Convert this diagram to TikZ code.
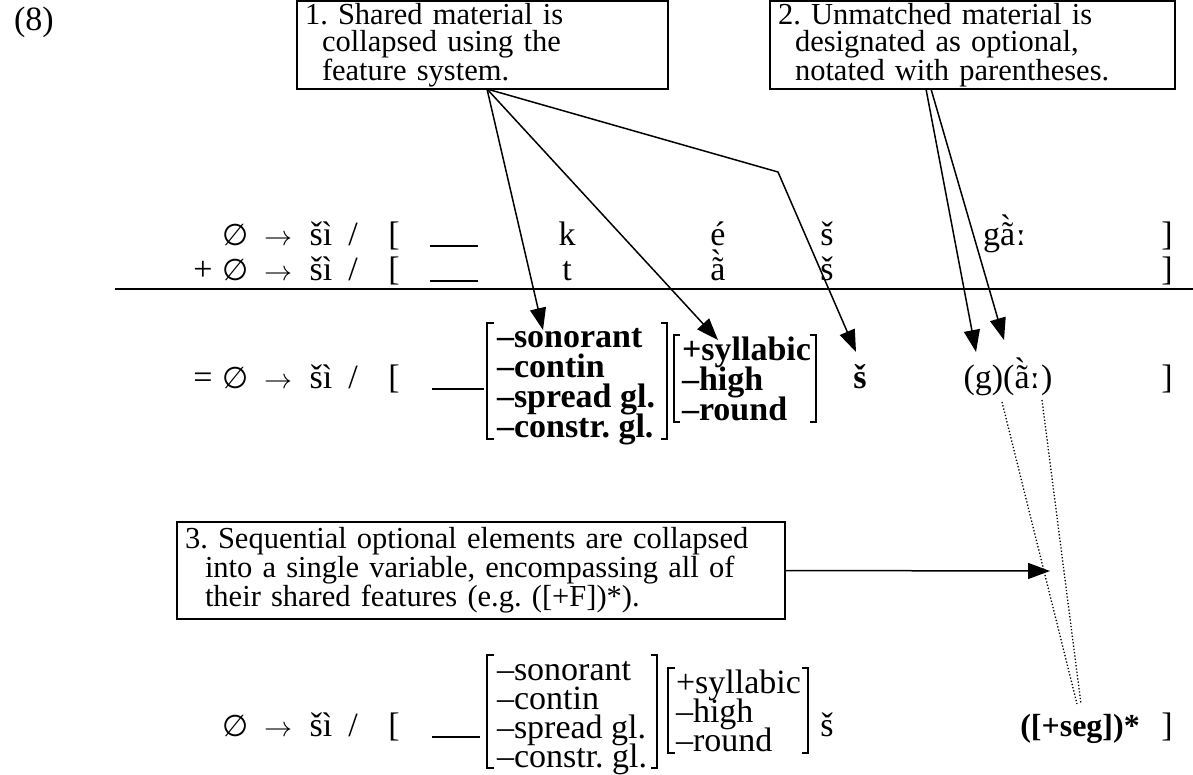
\RequirePackage{fix-cm}
\documentclass[tikz,border=0pt]{standalone}
\usepackage{fontspec}
\setmainfont{Liberation Serif}
\newfontfamily\dvsans{DejaVu Sans}
\newfontfamily\dvserif{DejaVu Serif}
\newfontfamily\rawserif{Liberation Serif}
\usetikzlibrary{arrows.meta}
\newcommand\emptyglyph{{\dvsans\fontsize{30}{33}\selectfont ∅}}
\newcommand\rarr{{\fontsize{28}{30}\selectfont$\rightarrow$}}
\newcommand\lengthmark{{\dvserif ː}}
\newsavebox\tgbox
\newcommand\atildegrave{\sbox\tgbox{ã}\rlap{\usebox\tgbox}\makebox[\wd\tgbox]{\hspace*{-0.12em}\raisebox{0.2em}{\rawserif `}}}
\begin{document}
\frenchspacing
\begin{tikzpicture}[x=1pt,y=-1pt,
  every node/.style={inner sep=0pt, outer sep=0pt},
  t/.style={anchor=base},
  tl/.style={anchor=base west},
  note/.style={draw, line width=1.8pt, anchor=north west, align=left, inner xsep=8pt, inner ysep=0pt,
    font=\fontsize{30.5}{27.5}\selectfont},
  arr/.style={line width=1.5pt, -{Triangle[length=22pt,width=16pt]}},
  brk/.style={line width=2.6pt},
  brkthin/.style={line width=1.3pt},
  blank/.style={line width=1.4pt},
  dots/.style={dotted, line width=1.3pt},
  font=\fontsize{34}{36}\selectfont]
\useasboundingbox (0,0) rectangle (1193,774);

% example number
\node[tl] (num) at (14,30) {(8)};

% annotation boxes
\node[note, minimum width=371pt, minimum height=88pt, text width=355pt] (b1) at (297,1)
  {1. Shared material is\\\hspace*{17pt}collapsed using the\\\hspace*{17pt}feature system.};
\node[note, minimum width=405pt, minimum height=88pt, text width=389pt] (b2) at (770,1)
  {2. Unmatched material is\\\hspace*{17pt}designated as optional,\\\hspace*{17pt}notated with parentheses.};
\node[note, minimum width=608pt, minimum height=97pt, text width=592pt] (b3) at (177,522)
  {3. Sequential optional elements are collapsed\\\hspace*{20pt}into a single variable, encompassing all of\\\hspace*{20pt}their shared features (e.g. ([+F])*).};

% row 1
\node[t] (a1) at (236,245) {\emptyglyph};
\node[t] (a2) at (278,245) {\rarr};
\node[t] (a3) at (321,245) {šì};
\node[t] (a4) at (353,245) {/};
\node[t] (a5) at (394,245) {[};
\draw[blank] (430,246) -- (478,246);
\node[t] (a6) at (567,245) {k};
\node[t] (a7) at (718,245) {é};
\node[t] (a8) at (827,245) {š};
\node[t] (a9) at (1005,245) {g\atildegrave\lengthmark};
\node[t] (a10) at (1167,245) {]};

% row 2
\node[t] (p0) at (203,280) {+};
\node[t] (p1) at (236,280) {\emptyglyph};
\node[t] (p2) at (278,280) {\rarr};
\node[t] (p3) at (321,280) {šì};
\node[t] (p4) at (353,280) {/};
\node[t] (p5) at (394,280) {[};
\draw[blank] (430,281) -- (478,281);
\node[t] (p6) at (567,280) {t};
\node[t] (p7) at (718,280) {\atildegrave};
\node[t] (p8) at (827,280) {š};
\node[t] (p10) at (1167,280) {]};

% rule
\draw[line width=1.8pt] (115,289) -- (1193,289);

% row 3 (bold result)
\node[t] (e0) at (203,388) {=};
\node[t] (e1) at (236,388) {\emptyglyph};
\node[t] (e2) at (278,388) {\rarr};
\node[t] (e3) at (321,388) {šì};
\node[t] (e4) at (353,388) {/};
\node[t] (e5) at (394,388) {[};
\draw[blank] (432,389) -- (484,389);
\draw[brk] (494,323) -- (487,323) -- (487,439) -- (494,439);
\draw[brk] (661,323) -- (667,323) -- (667,439) -- (661,439);
\node[tl] (m1) at (497,347) {\bfseries –sonorant};
\node[tl] (m2) at (497,377) {\bfseries –contin};
\node[tl] (m3) at (497,407) {\bfseries –spread gl.};
\node[tl] (m4) at (497,437) {\bfseries –constr. gl.};
\draw[brk] (680,335) -- (674,335) -- (674,422) -- (680,422);
\draw[brk] (810,335) -- (816,335) -- (816,422) -- (810,422);
\node[tl] (n1) at (682,360) {\bfseries +syllabic};
\node[tl] (n2) at (682,390) {\bfseries –high};
\node[tl] (n3) at (682,420) {\bfseries –round};
\node[t] (e8) at (860,388) {\bfseries š};
\node[t] (opt) at (1008,388) {(g)(\atildegrave\lengthmark)};
\node[t] (e10) at (1167,388) {]};

% bottom row
\node[t] (f1) at (236,736) {\emptyglyph};
\node[t] (f2) at (278,736) {\rarr};
\node[t] (f3) at (321,736) {šì};
\node[t] (f4) at (353,736) {/};
\node[t] (f5) at (394,736) {[};
\draw[blank] (432,737) -- (480,737);
\draw[brkthin] (494,655) -- (487,655) -- (487,768) -- (494,768);
\draw[brkthin] (651,655) -- (657,655) -- (657,768) -- (651,768);
\node[tl] (q1) at (497,680) {–sonorant};
\node[tl] (q2) at (497,709) {–contin};
\node[tl] (q3) at (497,738) {–spread gl.};
\node[tl] (q4) at (497,767) {–constr. gl.};
\draw[brkthin] (675,668) -- (668,668) -- (668,753) -- (675,753);
\draw[brkthin] (802,668) -- (808,668) -- (808,753) -- (802,753);
\node[tl] (s1) at (676,693) {+syllabic};
\node[tl] (s2) at (676,722) {–high};
\node[tl] (s3) at (676,751) {–round};
\node[t] (f8) at (827,736) {š};
\node[t] (seg) at (1080,736) {\fontsize{32}{36}\selectfont\bfseries ([+seg])*};
\node[t] (f10) at (1167,736) {]};

% connectors from box 1
\coordinate (o1) at (487,89);
\coordinate (tipson) at (543,330);
\coordinate (tipsyl) at (718,340);
\coordinate (bend) at (778,172);
\coordinate (tipsh) at (856,352);
\draw[arr] (o1) -- (tipson);
\draw[arr] (o1) -- (tipsyl);
\draw[arr] (o1) -- (bend) -- (tipsh);

% connectors from box 2
\coordinate (o2a) at (926,89);
\coordinate (o2b) at (931,89);
\coordinate (tipg) at (976,352);
\coordinate (tipa) at (1004,340);
\draw[arr] (o2a) -- (tipg);
\draw[arr] (o2b) -- (tipa);

% connector from box 3
\coordinate (tip3) at (1050,571);
\draw[arr] (b3.east) -- (tip3);

% dotted lines
\coordinate (d1) at (1002,402);
\coordinate (d2) at (1042,400);
\coordinate (s1t) at (1077,704);
\coordinate (s2t) at (1081,704);
\draw[dots] (d1) -- (s1t);
\draw[dots] (d2) -- (s2t);
\end{tikzpicture}
\end{document}
